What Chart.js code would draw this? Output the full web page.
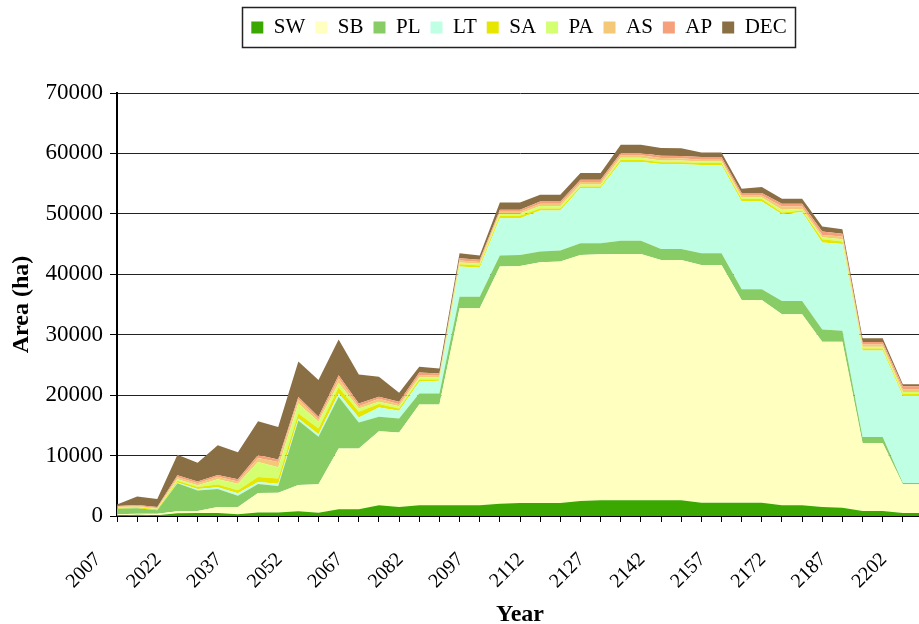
<!DOCTYPE html>
<html>
<head>
<meta charset="utf-8">
<script src="https://cdn.jsdelivr.net/npm/chart.js@4/dist/chart.umd.min.js"></script>
<style>
html,body{margin:0;padding:0;background:#fff;overflow:hidden;}
#wrap{position:relative;width:1038px;height:624px;}
</style>
</head>
<body>
<div id="wrap"><canvas id="c"></canvas></div>
<script>
const years = [2007,2012,2017,2022,2027,2032,2037,2042,2047,2052,2057,2062,2067,2072,2077,2082,2087,2092,2097,2102,2107,2112,2117,2122,2127,2132,2137,2142,2147,2152,2157,2162,2167,2172,2177,2182,2187,2192,2197,2202,2207];
const SW  = [100,220,110,450,500,500,280,580,580,770,550,1100,1100,1770,1490,1770,1770,1770,1770,2040,2150,2150,2150,2490,2600,2600,2600,2600,2600,2210,2210,2210,2210,1770,1770,1490,1380,830,830,500,500];
const SB  = [170,170,280,350,330,990,1210,3230,3260,4380,4700,10060,10060,12270,12320,16690,16690,32600,32600,39230,39230,39840,39950,40720,40720,40770,40770,39780,39750,39340,39340,33540,33540,31600,31600,27350,27460,11270,11270,4750,4750];
const PL  = [940,880,550,4600,3370,2960,1880,1490,1110,10650,7850,8560,4310,2380,2320,1820,1820,1930,1930,1820,1820,1770,1820,1930,1820,2160,2160,1820,1850,1930,1930,1770,1770,2210,2210,2040,1820,990,990,220,220];
const LT  = [0,0,0,150,250,300,380,330,400,350,440,550,830,1550,1270,1930,2100,4970,4800,6190,6080,6800,6630,9120,9120,13040,13040,14030,14000,14590,14590,14530,14530,14370,14720,14370,14370,14310,14310,14370,14370];
const SA  = [170,170,170,300,330,450,500,830,850,800,940,990,940,550,390,390,220,390,350,390,390,330,330,280,280,390,390,330,330,330,330,390,390,280,250,550,390,330,330,330,330];
const PA  = [60,110,110,250,320,900,1100,2480,1850,1660,1100,770,550,390,390,330,300,280,300,390,390,390,390,330,330,330,330,280,280,280,280,280,280,440,250,330,390,280,280,330,330];
const AS  = [110,110,110,300,300,400,350,660,900,660,390,720,390,500,330,390,300,330,300,280,280,390,390,390,390,390,390,390,390,280,280,330,330,550,420,390,450,390,390,440,440];
const AP  = [110,170,170,330,300,300,400,500,400,440,440,550,440,330,390,440,400,390,350,330,330,390,390,390,390,390,390,390,390,440,440,390,390,440,440,550,440,390,390,550,550];
const DEC = [250,1380,1320,3420,3130,4900,4450,5600,5390,5840,6080,5910,4810,3320,1490,940,820,830,700,1220,1220,1100,1100,1100,1100,1380,1380,1270,1270,770,770,720,990,830,830,830,770,610,610,330,330];

const seriesNames = ['SW','SB','PL','LT','SA','PA','AS','AP','DEC'];
const seriesData = [SW,SB,PL,LT,SA,PA,AS,AP,DEC];
const seriesColors = ['#3aa800','#ffffc0','#88cc66','#bfffe4','#e6e600','#d4ff70','#f5c878','#f5a07a','#8a6f44'];
const yTicks = [0,10000,20000,30000,40000,50000,60000,70000];

const FONT = "'Liberation Serif','Times New Roman',serif";

const legendBox = {
  id: 'legendBox',
  afterInit(chart) {
    const lg = chart.legend;
    const fit = lg.fit;
    lg.fit = function() { fit.call(this); this.height = 86; };
  },
  afterLayout(chart) {
    const lg = chart.legend;
    if (!lg) return;
    const shift = (chart.width - (lg.right - lg.left)) / 2 - lg.left;
    lg.left += shift;
    lg.right += shift;
  },
  afterDraw(chart) {
    const lg = chart.legend;
    if (!lg || !lg.legendHitBoxes || !lg.legendHitBoxes.length) return;
    let l = Infinity, r = -Infinity;
    lg.legendHitBoxes.forEach(b => { l = Math.min(l, b.left); r = Math.max(r, b.left + b.width); });
    const ctx = chart.ctx;
    ctx.save();
    ctx.strokeStyle = '#222';
    ctx.lineWidth = 1.5;
    ctx.strokeRect(Math.round(l - 9) + 0.5, 7.5, Math.round(r - l + 18), 40);
    ctx.restore();
  }
};

new Chart(document.getElementById('c'), {
  type: 'line',
  data: {
    labels: years.map(String),
    datasets: seriesNames.map((n, i) => ({
      label: n,
      data: seriesData[i],
      backgroundColor: seriesColors[i],
      borderColor: seriesColors[i],
      borderWidth: 0,
      pointRadius: 0,
      tension: 0,
      fill: i === 0 ? 'origin' : '-1'
    }))
  },
  options: {
    responsive: true,
    maintainAspectRatio: false,
    animation: false,
    layout: { padding: { top: 7, left: 0, right: 115, bottom: 0 } },
    plugins: {
      legend: {
        display: true,
        position: 'top',
        labels: {
          font: { family: FONT, size: 21 },
          color: '#000',
          boxWidth: 12,
          boxHeight: 12,
          padding: 10
        }
      },
      tooltip: { enabled: false },
      filler: { propagate: false }
    },
    scales: {
      x: {
        type: 'category',
        offset: false,
        grid: { display: true, drawOnChartArea: false, drawTicks: true, tickLength: 6, tickColor: '#000', tickWidth: 1 },
        border: { display: true, color: '#000', width: 2 },
        ticks: {
          autoSkip: false,
          minRotation: 45,
          maxRotation: 45,
          labelOffset: -19,
          padding: 26,
          color: '#000',
          font: { family: FONT, size: 20 },
          callback: function(v, i) { return i % 3 === 0 ? years[i] : ''; }
        },
        title: { display: true, text: 'Year', color: '#000', font: { family: FONT, size: 24, weight: 'bold' }, padding: { top: 0, bottom: -5 } },
        afterFit: (s) => { s.height = 108; }
      },
      y: {
        stacked: true,
        min: 0,
        max: 70000,
        grid: { color: '#222', lineWidth: 1, drawTicks: true, tickLength: 7, tickColor: '#000' },
        border: { display: true, color: '#000', width: 2 },
        ticks: {
          stepSize: 10000,
          padding: 7,
          color: '#000',
          font: { family: FONT, size: 23 },
          callback: (v) => yTicks.includes(v) ? String(v) : ''
        },
        title: { display: true, text: 'Area (ha)', color: '#000', font: { family: FONT, size: 24, weight: 'bold' }, padding: { top: 7, bottom: 0 } },
        afterFit: (s) => { s.width = 117; }
      }
    }
  },
  plugins: [legendBox]
});
</script>
</body>
</html>
